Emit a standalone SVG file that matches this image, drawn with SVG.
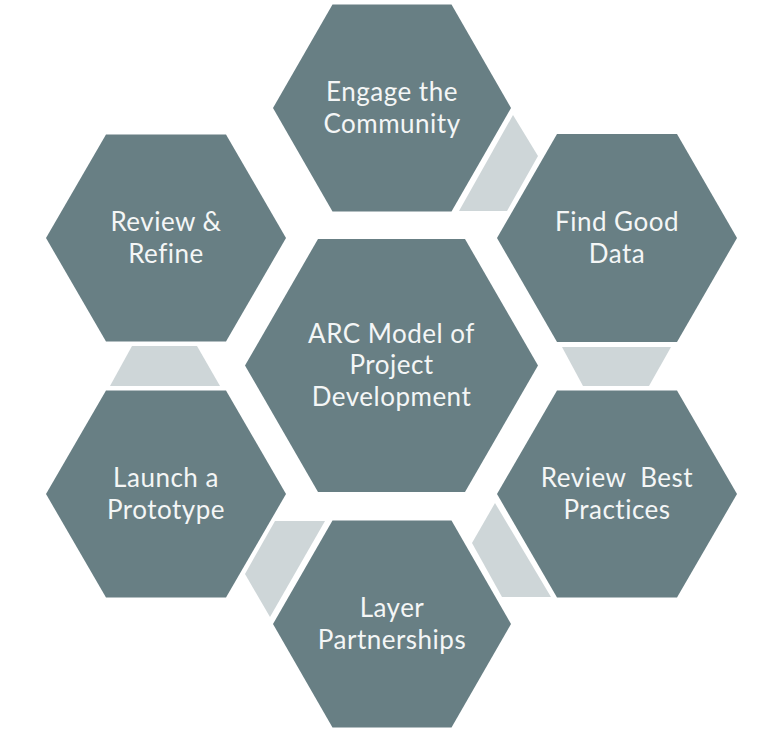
<svg xmlns="http://www.w3.org/2000/svg" width="771" height="733" viewBox="0 0 771 733">
<style>
.hex{fill:#687f84}
.arr{fill:#ced6d8}
.t{font-family:Lato,"Open Sans","Liberation Sans",sans-serif;font-size:26px;letter-spacing:0.5px;fill:#f4f6f6;text-anchor:middle}
</style>
<rect x="0" y="0" width="771" height="733" fill="#ffffff"/>
<g id="connectors">
<polygon class="arr" points="513,115 538,156 507,211 459,211"/>
<polygon class="arr" points="562,347 671,347 649,386 583,386"/>
<polygon class="arr" points="495,503 472,543 502,597 551,597"/>
<polygon class="arr" points="275,521 325,521 270,617 245,574"/>
<polygon class="arr" points="132,346 197,346 220,386 110,386"/>
</g>
<g id="center">
<polygon class="hex" points="245,365.5 318,239 465,239 538,365.5 465,492 318,492"/>
<text class="t" x="391.5" y="342.5">ARC Model of</text>
<text class="t" x="391.5" y="374">Project</text>
<text class="t" x="391.5" y="405.5">Development</text>
</g>
<g id="engage">
<polygon class="hex" points="273,108 332.5,4.5 451.5,4.5 511,108 451.5,211.5 332.5,211.5"/>
<text class="t" x="392" y="101">Engage the</text>
<text class="t" x="392" y="132.5">Community</text>
</g>
<g id="find">
<polygon class="hex" points="497,238 557,134 677,134 737,238 677,342 557,342"/>
<text class="t" x="617" y="231">Find Good</text>
<text class="t" x="617" y="262.5">Data</text>
</g>
<g id="best">
<polygon class="hex" points="497,494 557,390.5 677,390.5 737,494 677,597.5 557,597.5"/>
<text class="t" x="617" y="487" xml:space="preserve">Review  Best</text>
<text class="t" x="617" y="518.5">Practices</text>
</g>
<g id="layer">
<polygon class="hex" points="273,624 332.5,520.5 451.5,520.5 511,624 451.5,727.5 332.5,727.5"/>
<text class="t" x="392" y="617">Layer</text>
<text class="t" x="392" y="648.5">Partnerships</text>
</g>
<g id="launch">
<polygon class="hex" points="46,494 106,390.5 226,390.5 286,494 226,597.5 106,597.5"/>
<text class="t" x="166" y="487">Launch a</text>
<text class="t" x="166" y="518.5">Prototype</text>
</g>
<g id="refine">
<polygon class="hex" points="46,238 106,134.5 226,134.5 286,238 226,341.5 106,341.5"/>
<text class="t" x="166" y="231">Review &amp;</text>
<text class="t" x="166" y="262.5">Refine</text>
</g>
</svg>
